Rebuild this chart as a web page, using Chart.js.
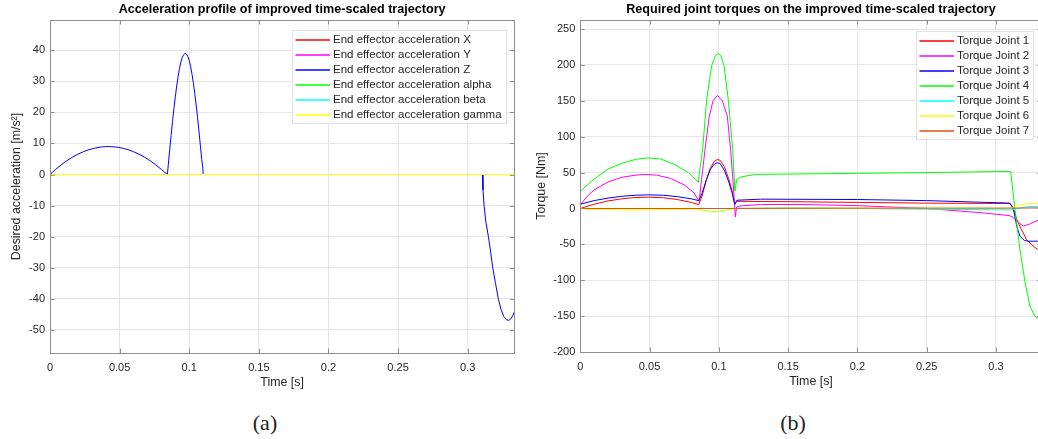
<!DOCTYPE html>
<html>
<head>
<meta charset="utf-8">
<script src="https://cdn.jsdelivr.net/npm/chart.js@4.4.1/dist/chart.umd.min.js"></script>
<style>
  html, body { margin: 0; padding: 0; background: #fff; overflow: hidden; }
  #page { position: relative; width: 1038px; height: 439px; overflow: hidden; }
  .panel { position: absolute; top: 0; }
  .caption { position: absolute; top: 411px; line-height: 24px; font-family: "Liberation Serif", "DejaVu Serif", serif; font-size: 22px; color: #222; transform: translateX(-50%); }
</style>
</head>
<body>
<div id="page">
  <canvas id="accChart" class="panel" style="left:0; width:520px; height:400px" width="520" height="400"></canvas>
  <canvas id="torqueChart" class="panel" style="left:520px; width:525px; height:400px" width="525" height="400"></canvas>
  <div class="caption" style="left:265px">(a)</div>
  <div class="caption" style="left:793px">(b)</div>
</div>
<script>
// --- data: [time (s), value] ---
const timeTicks = [0, 0.05, 0.1, 0.15, 0.2, 0.25, 0.3];
const accTicks = [-50, -40, -30, -20, -10, 0, 10, 20, 30, 40];
const torqueTicks = [-200, -150, -100, -50, 0, 50, 100, 150, 200, 250];

const accLabels = ['End effector acceleration X', 'End effector acceleration Y', 'End effector acceleration Z',
  'End effector acceleration alpha', 'End effector acceleration beta', 'End effector acceleration gamma'];
const torqueLabels = ['Torque Joint 1', 'Torque Joint 2', 'Torque Joint 3', 'Torque Joint 4',
  'Torque Joint 5', 'Torque Joint 6', 'Torque Joint 7'];

const accX = [[0, 0], [0.3335, 0]];
const accY = [[0, 0], [0.3335, 0]];
const accZ = [
  [0, 0], [0.004, 1.63], [0.008, 3.10], [0.012, 4.41], [0.016, 5.55], [0.020, 6.53], [0.024, 7.35],
  [0.028, 8.00], [0.032, 8.49], [0.036, 8.82], [0.040, 8.98], [0.042, 9.0], [0.044, 8.98], [0.048, 8.82],
  [0.052, 8.49], [0.056, 8.00], [0.060, 7.35], [0.064, 6.53], [0.068, 5.55], [0.072, 4.41], [0.076, 3.10],
  [0.080, 1.63], [0.0843, 0],
  [0.085, 3.3], [0.086, 8.0], [0.087, 12.6], [0.088, 17.0], [0.089, 21.2], [0.090, 25.0], [0.091, 28.5],
  [0.092, 31.5], [0.093, 34.1], [0.094, 36.2], [0.095, 37.7], [0.096, 38.6], [0.097, 39.0], [0.098, 38.8],
  [0.099, 38.0], [0.100, 36.7], [0.101, 34.8], [0.102, 32.3], [0.103, 29.4], [0.104, 26.1], [0.105, 22.4],
  [0.106, 18.3], [0.107, 14.0], [0.108, 9.4], [0.109, 4.8], [0.1098, 2.0], [0.1100, 0],
  [0.3105, 0], [0.311, -5], [0.3118, -10], [0.313, -15], [0.3149, -20], [0.3165, -25], [0.318, -30],
  [0.320, -35], [0.322, -40], [0.324, -43.5], [0.326, -45.8], [0.328, -46.8], [0.3295, -47], [0.331, -46.5],
  [0.3325, -45.3], [0.3335, -44.3]
];
const accAlpha = [[0, 0], [0.3335, 0]];
const accBeta = [[0, 0], [0.3335, 0]];
const accGamma = [[0, 0], [0.3335, 0]];

const torque1 = [
  [0, 0], [0.01, 6], [0.02, 10.5], [0.03, 13.5], [0.04, 15.3], [0.049, 15.8], [0.06, 15], [0.07, 12.5],
  [0.08, 8.5], [0.0855, 5.5], [0.088, 18], [0.091, 40], [0.094, 57], [0.097, 66.5], [0.0991, 68.3],
  [0.101, 67], [0.104, 58], [0.107, 42], [0.1095, 25], [0.1115, 7], [0.113, 10], [0.15, 9.5], [0.2, 8.5],
  [0.25, 7.5], [0.31, 7], [0.3125, 1], [0.315, -15], [0.318, -28], [0.322, -43], [0.326, -51], [0.33, -57],
  [0.333, -59]
];
const torque2 = [
  [0, 5], [0.005, 17], [0.01, 26], [0.02, 37], [0.03, 43.5], [0.04, 46.5], [0.047, 47.5], [0.055, 46.5],
  [0.065, 42], [0.075, 33], [0.082, 22], [0.0858, 10], [0.0875, 40], [0.090, 82], [0.0931, 129],
  [0.0958, 150], [0.099, 157.5], [0.1025, 150], [0.1061, 129], [0.1085, 82], [0.1105, 30], [0.1119, -12],
  [0.1128, 2], [0.115, 3.5], [0.13, 5.5], [0.16, 5.5], [0.2, 4], [0.25, 0], [0.29, -6], [0.31, -10],
  [0.312, -12], [0.316, -19], [0.3197, -24.5], [0.324, -22], [0.333, -14]
];
const torque3 = [
  [0, 6], [0.01, 11], [0.02, 14.5], [0.03, 17], [0.04, 18.5], [0.049, 19], [0.06, 18.5], [0.07, 16.5],
  [0.08, 13.5], [0.0855, 11], [0.088, 22], [0.091, 40], [0.094, 55], [0.097, 62.5], [0.0991, 63.8],
  [0.101, 62.5], [0.104, 53], [0.107, 38], [0.1095, 22], [0.1115, 5.5], [0.113, 11.5], [0.13, 13],
  [0.2, 12.5], [0.25, 11], [0.31, 7.5], [0.3125, 0], [0.315, -24.7], [0.3173, -38.7], [0.3205, -44.5],
  [0.3233, -45.6], [0.333, -45.6]
];
const torque4 = [
  [0, 24], [0.008, 38], [0.02, 55], [0.03, 63], [0.04, 68.5], [0.049, 70.5], [0.058, 69], [0.068, 61.5],
  [0.078, 50], [0.0852, 36.5], [0.086, 50], [0.0883, 82], [0.0912, 152], [0.0948, 199], [0.0975, 213],
  [0.0996, 216], [0.1015, 213], [0.1037, 199], [0.1068, 152], [0.110, 82], [0.1116, 24], [0.1129, 40.5],
  [0.116, 44], [0.1263, 47.5], [0.15, 48], [0.2, 49], [0.25, 50], [0.30, 51.5], [0.3106, 51.5],
  [0.3137, -1], [0.3173, -57], [0.321, -103], [0.3245, -136], [0.328, -150], [0.333, -156]
];
const torque5 = [
  [0, 0], [0.085, 0], [0.088, -2.5], [0.093, -4], [0.1, -4], [0.105, -3], [0.108, -1], [0.112, 0],
  [0.15, 1], [0.2, 0], [0.25, -1], [0.31, -2], [0.316, 0], [0.322, 2.5], [0.333, 3.5]
];
const torque6 = [
  [0, -1], [0.04, -2], [0.085, -1], [0.09, -3.5], [0.097, -5], [0.105, -3], [0.112, 0], [0.15, 0.5],
  [0.25, 0.5], [0.31, 0.5], [0.314, 3], [0.318, 5.5], [0.325, 7], [0.333, 7]
];
const torque7 = [[0, 0], [0.1, 0], [0.2, 0.5], [0.31, 0.5], [0.333, 1]];

const accSeries = [accX, accY, accZ, accAlpha, accBeta, accGamma];
const torqueSeries = [torque1, torque2, torque3, torque4, torque5, torque6, torque7];
const accColors = ['#ff0000', '#ff00ff', '#0000ff', '#00ff00', '#00ffff', '#ffff00'];
const torqueColors = ['#ff0000', '#ff00ff', '#0000ff', '#00ff00', '#00ffff', '#ffff00', '#d95319'];

// --- styles ---
const FONT = '"Liberation Sans", Arial, Helvetica, sans-serif';
const TEXT = '#262626';
const GRID = '#e6e6e6';
const AXIS = '#8f8f8f';

// legend drawn as a boxed list inside the top-right corner of the plot (MATLAB style)
const boxLegend = {
  id: 'boxLegend',
  afterDraw(chart, args, opts) {
    const ctx = chart.ctx;
    const area = chart.chartArea;
    const sets = chart.data.datasets;
    ctx.save();
    ctx.font = '11.5px ' + FONT;
    let wMax = 0;
    sets.forEach(d => { wMax = Math.max(wMax, ctx.measureText(d.label).width); });
    const w = Math.round(wMax + 45);
    const h = sets.length * 15 + 3;
    const x0 = Math.round(area.right - opts.right - w);
    const y0 = Math.round(area.top + opts.top);
    ctx.fillStyle = '#fff';
    ctx.fillRect(x0, y0, w, h);
    ctx.strokeStyle = '#e2e2e2';
    ctx.lineWidth = 1;
    ctx.strokeRect(x0 + 0.5, y0 + 0.5, w, h);
    ctx.textBaseline = 'middle';
    sets.forEach((d, i) => {
      const y = y0 + 10 + i * 15;
      ctx.strokeStyle = d.borderColor;
      ctx.lineWidth = 1.3;
      ctx.beginPath();
      ctx.moveTo(x0 + 3.5, y);
      ctx.lineTo(x0 + 38, y);
      ctx.stroke();
      ctx.fillStyle = TEXT;
      ctx.fillText(d.label, x0 + 41, y);
    });
    ctx.restore();
  }
};

// box around the axes with inward tick marks on all four sides
const axesBox = {
  id: 'axesBox',
  afterDatasetsDraw(chart) {
    const { ctx, chartArea: a, scales } = chart;
    const tl = 4.5;
    ctx.save();
    ctx.strokeStyle = AXIS;
    ctx.lineWidth = 1;
    ctx.strokeRect(Math.round(a.left) + 0.5, Math.round(a.top) + 0.5,
      Math.round(a.right) - Math.round(a.left), Math.round(a.bottom) - Math.round(a.top));
    ctx.beginPath();
    scales.x.ticks.forEach(t => {
      const px = Math.round(scales.x.getPixelForValue(t.value)) + 0.5;
      ctx.moveTo(px, a.bottom); ctx.lineTo(px, a.bottom - tl);
      ctx.moveTo(px, a.top); ctx.lineTo(px, a.top + tl);
    });
    scales.y.ticks.forEach(t => {
      const py = Math.round(scales.y.getPixelForValue(t.value)) + 0.5;
      ctx.moveTo(a.left, py); ctx.lineTo(a.left + tl, py);
      ctx.moveTo(a.right, py); ctx.lineTo(a.right - tl, py);
    });
    ctx.stroke();
    ctx.restore();
  }
};

function makeDatasets(series, labels, colors) {
  const n = series.length;
  return series.map((pts, i) => ({
    label: labels[i],
    data: pts.map(p => ({ x: p[0], y: p[1] })),
    borderColor: colors[i],
    backgroundColor: colors[i],
    borderWidth: 1,
    pointRadius: 0,
    tension: 0,
    order: n - 1 - i  // later series drawn on top, like MATLAB
  }));
}

function makeOptions(cfg) {
  const tickFont = { size: 11, family: FONT };
  const labelFont = { size: 12.4, family: FONT };
  return {
    responsive: false,
    animation: false,
    devicePixelRatio: 1,
    layout: { padding: cfg.padding },
    plugins: {
      legend: { display: false },
      tooltip: { enabled: false },
      title: {
        display: true, text: cfg.title, color: '#000', fullSize: false,
        font: { size: 12.6, weight: 'bold', family: FONT, lineHeight: 1.2 },
        padding: { top: 2.44, bottom: 2.44 }
      },
      boxLegend: cfg.legend
    },
    scales: {
      x: {
        type: 'linear', min: 0, max: cfg.xMax,
        afterBuildTicks: s => { s.ticks = timeTicks.map(v => ({ value: v })); },
        afterFit: s => { s.height = 40; },
        grid: { color: GRID, drawTicks: false },
        border: { color: AXIS },
        ticks: { color: TEXT, font: tickFont, padding: 8, maxRotation: 0, autoSkip: false, callback: v => String(v) },
        title: { display: true, text: 'Time [s]', color: TEXT, font: labelFont, padding: { top: 0, bottom: 3 } }
      },
      y: {
        type: 'linear', min: cfg.yMin, max: cfg.yMax,
        afterBuildTicks: s => { s.ticks = cfg.yTicks.map(v => ({ value: v })); },
        afterFit: s => { s.width = cfg.yWidth; },
        grid: { color: GRID, drawTicks: false },
        border: { color: AXIS },
        ticks: { color: TEXT, font: tickFont, padding: 5, autoSkip: false, callback: v => String(v) },
        title: { display: true, text: cfg.yTitle, color: TEXT, font: labelFont, padding: { top: cfg.yTitlePad, bottom: 0 } }
      }
    }
  };
}

new Chart(document.getElementById('accChart'), {
  type: 'line',
  data: { datasets: makeDatasets(accSeries, accLabels, accColors) },
  options: makeOptions({
    title: 'Acceleration profile of improved time-scaled trajectory',
    padding: { top: 0, left: 0, right: 5.7, bottom: 7 },
    xMax: 0.3335, yMin: -57.5, yMax: 49.77, yTicks: accTicks,
    yWidth: 50, yTitle: 'Desired acceleration [m/s²]', yTitlePad: 9.6,
    legend: { top: 10, right: 8.6 }
  }),
  plugins: [axesBox, boxLegend]
});

new Chart(document.getElementById('torqueChart'), {
  type: 'line',
  data: { datasets: makeDatasets(torqueSeries, torqueLabels, torqueColors) },
  options: makeOptions({
    title: 'Required joint torques on the improved time-scaled trajectory',
    padding: { top: 0, left: 0, right: 3.3, bottom: 8 },
    xMax: 0.333, yMin: -200, yMax: 262.7, yTicks: torqueTicks,
    yWidth: 60.3, yTitle: 'Torque [Nm]', yTitlePad: 14.3,
    legend: { top: 11, right: 8.7 }
  }),
  plugins: [axesBox, boxLegend]
});
</script>
</body>
</html>
